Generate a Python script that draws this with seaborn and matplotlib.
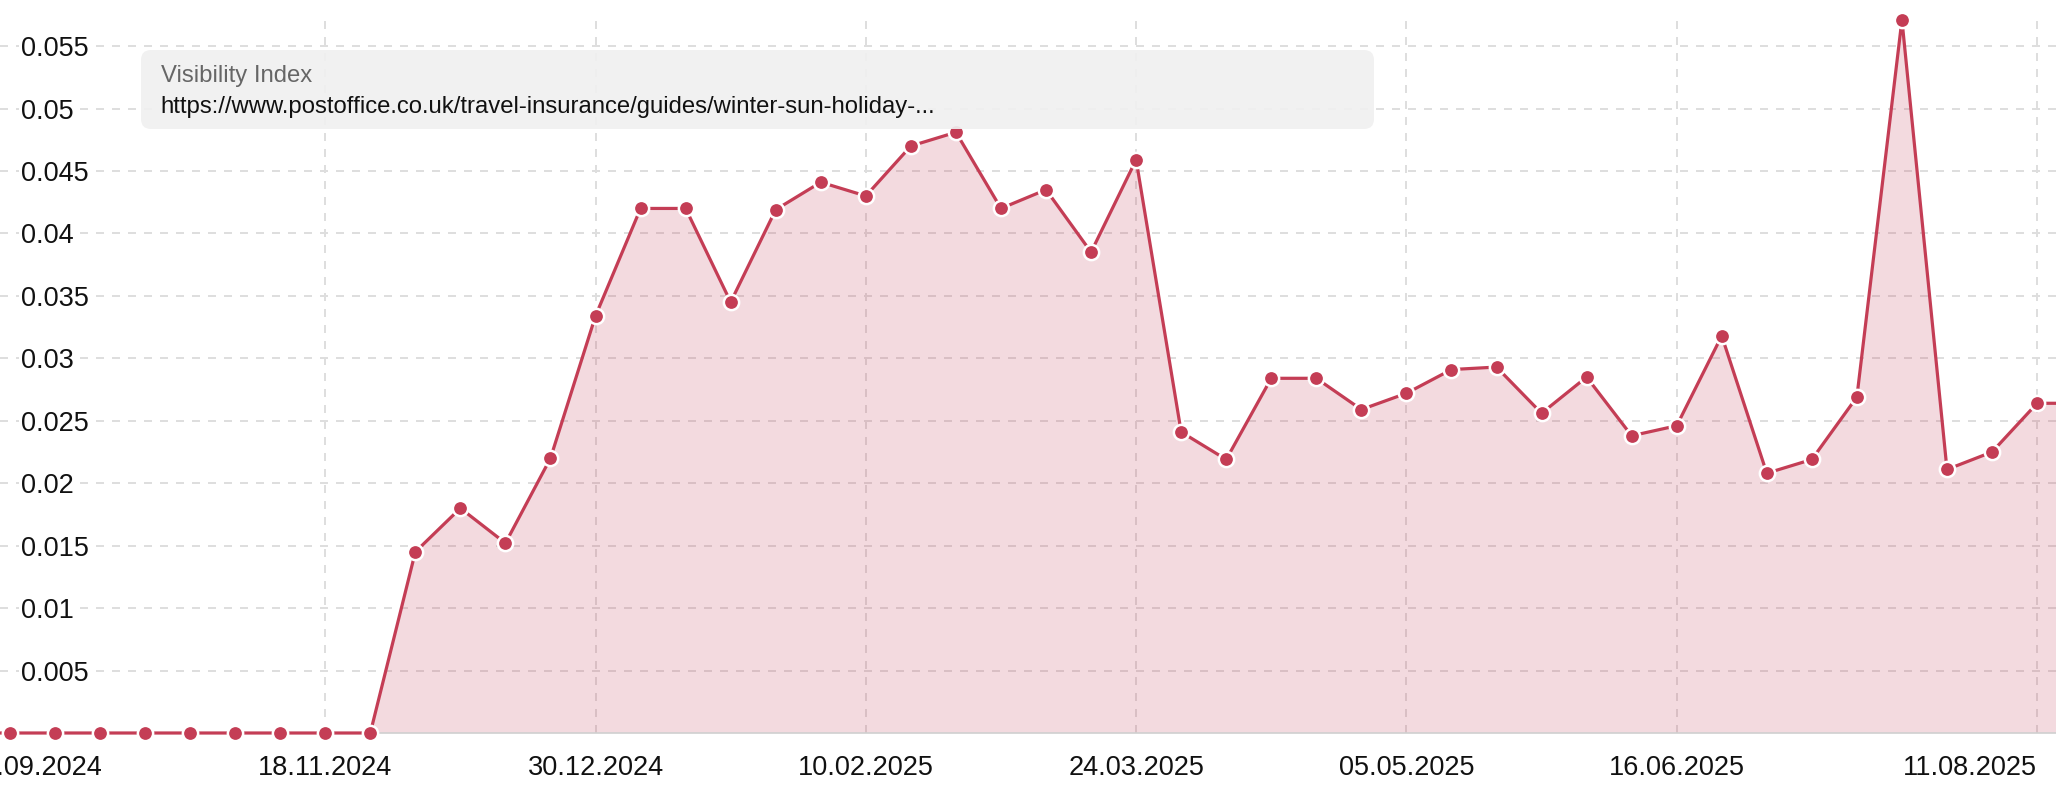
#Visibility index chart for one url
import numpy as np
import pandas as pd
import matplotlib
matplotlib.use("Agg")
import matplotlib.pyplot as plt
import matplotlib.transforms as mtransforms
from matplotlib.patches import FancyBboxPatch
import seaborn as sns

#Weekly dates (one point left and right of the visible range)
dates = pd.date_range("2024-09-23", periods=48, freq="7D")
visibility = [0.0,
              0.0, 0.0, 0.0, 0.0, 0.0, 0.0, 0.0, 0.0, 0.0,
              0.0145, 0.0180, 0.0152, 0.0220, 0.0334, 0.0420, 0.0420, 0.0345,
              0.0419, 0.0441, 0.0430, 0.0470, 0.0481, 0.0420, 0.0435, 0.0385,
              0.0459, 0.0241, 0.0219, 0.0284, 0.0284, 0.0259, 0.0272, 0.0291,
              0.0293, 0.0256, 0.0285, 0.0238, 0.0246, 0.0318, 0.0208, 0.0219,
              0.0269, 0.0571, 0.0211, 0.0225, 0.0264, 0.0264]
tick_labels = ["30.09.2024", "18.11.2024", "30.12.2024", "10.02.2025",
               "24.03.2025", "05.05.2025", "16.06.2025", "11.08.2025"]
y_ticks = [0.005, 0.01, 0.015, 0.02, 0.025, 0.03, 0.035, 0.04, 0.045, 0.05, 0.055]
legend_title = "Visibility Index"
legend_url = "https://www.postoffice.co.uk/travel-insurance/guides/winter-sun-holiday-..."

df = pd.DataFrame({"date": dates, "visibility": visibility})

RED = "#c43d55"

sns.set_theme(style="white")
plt.rcParams["font.family"] = ["Liberation Sans", "DejaVu Sans"]

fig = plt.figure(figsize=(20.56, 8), dpi=100)
ax = fig.add_axes([0, 67 / 800, 1, (800 - 67 - 19.5) / 800])

ax.fill_between(df["date"], df["visibility"], 0, color=RED, alpha=0.19, linewidth=0, zorder=2)
sns.lineplot(data=df, x="date", y="visibility", ax=ax, color=RED, linewidth=2.3,
             marker="o", markersize=11, markeredgecolor="white", markeredgewidth=1.8,
             clip_on=False, zorder=3)

tick_dates = pd.to_datetime(tick_labels, format="%d.%m.%Y")
week = pd.Timedelta(days=7)
ax.set_xlim(tick_dates[0] - 0.22 * week, tick_dates[-1] + 0.42 * week)
ax.set_ylim(0, max(visibility) * 1.0005)

ax.set_xticks(tick_dates)
ax.set_xticklabels(tick_labels)
ax.set_yticks(y_ticks)
ax.set_yticklabels([f"{v:g}" for v in y_ticks])
ax.set_xlabel("")
ax.set_ylabel("")

ax.set_axisbelow(True)
ax.grid(True, axis="both", color="#dedede", linewidth=1.44, linestyle=(0, (4, 4)))
ax.xaxis.get_gridlines()[0].set_visible(False)

sns.despine(ax=ax, left=True, top=True, right=True)
ax.spines["bottom"].set_color("#d0d0d0")
ax.spines["bottom"].set_linewidth(1.2)

ax.tick_params(axis="x", length=0, pad=16, labelsize=19.5, labelcolor="#111111")
ax.tick_params(axis="y", length=0, pad=-15, labelsize=19.5, labelcolor="#111111")
for lab in ax.get_yticklabels():
    lab.set_horizontalalignment("left")
    lab.set_bbox(dict(facecolor="white", edgecolor="none", pad=1.5))

#first label pushed right, last one kept inside
xl = ax.get_xticklabels()
xl[0].set_transform(xl[0].get_transform() + mtransforms.ScaledTranslation(0.25, 0, fig.dpi_scale_trans))
xl[-1].set_horizontalalignment("right")

#legend box top left
box = FancyBboxPatch((1.41, 6.71), 12.33, 0.79, boxstyle="round,pad=0,rounding_size=0.1",
                     transform=fig.dpi_scale_trans, facecolor="#f0f0f0", edgecolor="none",
                     alpha=0.92, zorder=5)
fig.patches.append(box)
fig.text(1.607, 7.18, legend_title, transform=fig.dpi_scale_trans, fontsize=17.2,
         color="#666666", va="baseline", zorder=6)
fig.text(1.607, 6.875, legend_url, transform=fig.dpi_scale_trans, fontsize=17.2,
         color="#111111", va="baseline", zorder=6)

fig.savefig("out.png", dpi=100)
